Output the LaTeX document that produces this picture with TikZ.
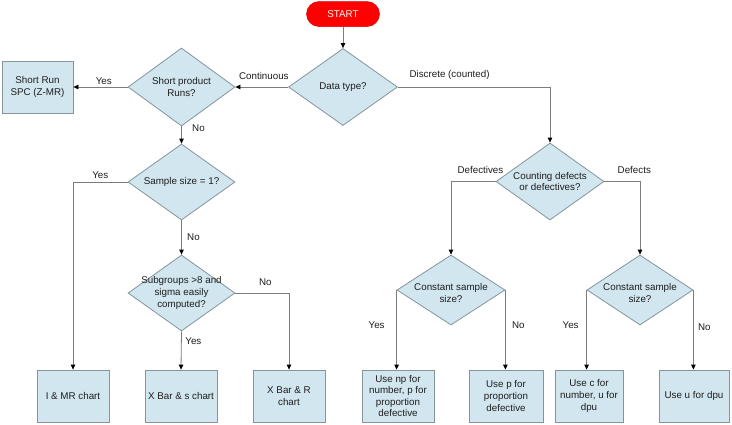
\documentclass[tikz,border=0pt]{standalone}
\usepackage{fontspec}
\setmainfont{Liberation Sans}
\usetikzlibrary{shapes.geometric,arrows.meta}

\definecolor{boxfill}{HTML}{D1E6EE}
\definecolor{boxline}{HTML}{84959C}
\definecolor{wire}{HTML}{7C7C7C}
\definecolor{startred}{HTML}{FF0000}
\definecolor{ink}{HTML}{1E1E1E}

\begin{document}
\begin{tikzpicture}[x=1pt,y=-1pt,
  font=\fontsize{9.8}{11.6}\selectfont, text=ink,
  base/.style={draw=boxline, line width=0.8pt, fill=boxfill, inner sep=0pt},
  decision/.style={base, diamond, minimum width=107pt, minimum height=77pt},
  process/.style={base, rectangle, minimum width=72pt, minimum height=52pt, align=center},
  dtext/.style={align=center, inner sep=0pt, text=ink},
  flow/.style={draw=wire, line width=0.8pt, -{Triangle[length=5pt,width=4.5pt,color=black]}},
  lbl/.style={inner sep=0pt, anchor=center, text=ink}]

  % canvas
  \fill[white] (0,0) rectangle (732,424);
  \useasboundingbox (0,0) rectangle (732,424);

  % terminator
  \node[fill=startred, draw=red!85!black, line width=0.5pt, rounded corners=12.5pt,
        minimum width=73pt, minimum height=25pt, text=white] (start) at (343,14) {START};

  % decisions
  \node[decision, minimum width=109pt, label={[dtext]center:Data type?}] (dtype) at (343,87) {};
  \node[decision, minimum height=78pt, label={[dtext]center:Short product\\Runs?}] (short) at (181.5,87) {};
  \node[decision, minimum height=76pt, label={[dtext]center:Sample size = 1?}] (sample) at (181.5,182) {};
  \node[decision, minimum height=76pt, label={[dtext]center:Subgroups >8 and\\sigma easily\\computed?}] (subg) at (181.5,293) {};
  \node[decision, minimum width=108pt, label={[dtext]center:Counting defects\\or defectives?}] (count) at (550,181.5) {};
  \node[decision, minimum width=108pt, minimum height=70pt,
        label={[dtext,yshift=-3pt]center:Constant sample\\size?}] (constL) at (451,290) {};
  \node[decision, minimum width=106pt, minimum height=70pt,
        label={[dtext,yshift=-3pt]center:Constant sample\\size?}] (constR) at (640,290) {};

  % outcomes
  \node[process, minimum width=71pt] (spc) at (37.5,87) {Short Run\\SPC (Z-MR)};
  \node[process] (imr) at (73,396) {I \& MR chart};
  \node[process] (xbs) at (181,396) {X Bar \& s chart};
  \node[process] (xbr) at (289,396) {X Bar \& R\\chart};
  \node[process] (npbox) at (398,396) {Use np for\\number, p for\\proportion\\defective};
  \node[process, minimum width=74pt] (pbox) at (506,396) {Use p for\\proportion\\defective};
  \node[process, minimum width=68pt] (cbox) at (589,396) {Use c for\\number, u for\\dpu};
  \node[process, minimum width=70pt] (ubox) at (694,396) {Use u for dpu};

  % connectors
  \draw[flow] (start) -- (dtype);
  \draw[flow] (dtype.west) -- node[lbl,pos=.46,yshift=11pt]{Continuous} (short.east);
  \draw[flow] (dtype.east) -| node[lbl,pos=.17,yshift=12pt]{Discrete (counted)} (count.north);

  \draw[flow] (short.west) -- node[lbl,pos=.44,yshift=6pt]{Yes} (spc.east);
  \draw[flow] (short.south) -- node[lbl,pos=.1,xshift=17pt]{No} (sample.north);
  \draw[flow] (sample.west) -| node[lbl,pos=.25,yshift=7pt]{Yes} (imr.north);
  \draw[flow] (sample.south) -- node[lbl,pos=.5,xshift=12pt]{No} (subg.north);
  \draw[flow] (subg.south) -- node[lbl,pos=.26,xshift=12pt]{Yes} (xbs.north);
  \draw[flow] (subg.east) -| node[lbl,pos=.28,yshift=11pt]{No} (xbr.north);

  \draw[flow] (count.west) -| node[lbl,pos=.17,yshift=12pt]{Defectives} (constL.north);
  \draw[flow] (count.east) -| node[lbl,pos=.42,yshift=12pt]{Defects} (constR.north);
  \draw[flow] (constL.west) -- node[lbl,pos=.44,xshift=-20pt]{Yes} (constL.west |- npbox.north);
  \draw[flow] (constL.east) -- node[lbl,pos=.44,xshift=13pt]{No} (constL.east |- pbox.north);
  \draw[flow] (constR.west) -- node[lbl,pos=.44,xshift=-16pt]{Yes} (constR.west |- cbox.north);
  \draw[flow] (constR.east) -- node[lbl,pos=.47,xshift=11pt]{No} (constR.east |- ubox.north);
\end{tikzpicture}
\end{document}
